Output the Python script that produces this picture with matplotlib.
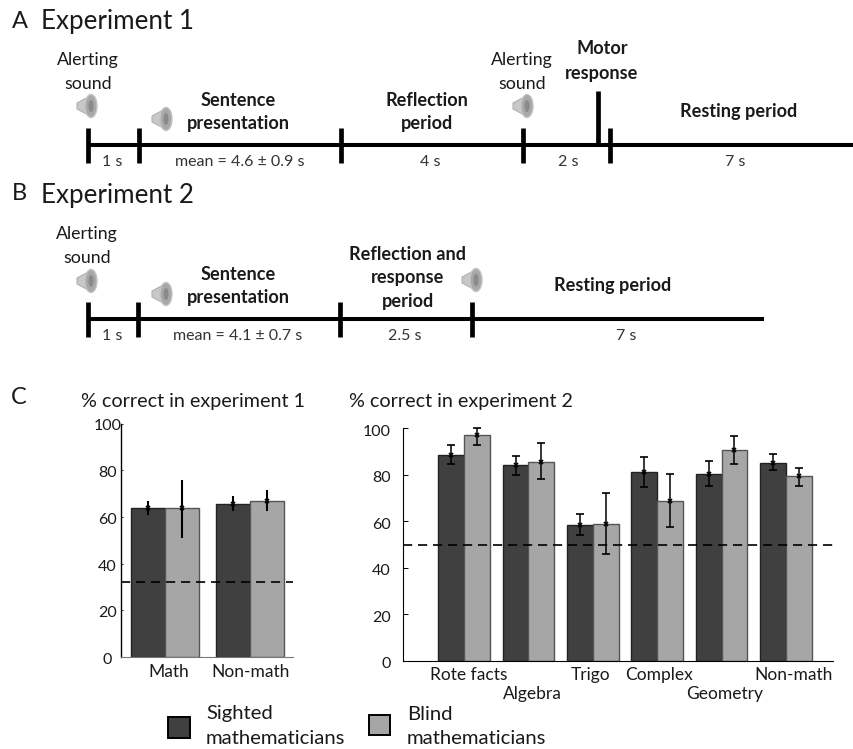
import matplotlib
matplotlib.use('Agg')
import matplotlib.pyplot as plt
from matplotlib.patches import Polygon, Ellipse, Rectangle

plt.rcParams['font.family'] = ['Lato', 'DejaVu Sans']

W, H = 854, 749
DARK = '#404040'
LIGHT = '#a6a6a6'
TXT = '#1a1a1a'

# Experiment 1 accuracy
exp1_groups = ['Math', 'Non-math']
exp1_sighted = [64, 65.7]
exp1_blind = [63.6, 66.9]
exp1_sighted_hi = [66.6, 69.1]
exp1_sighted_lo = [61, 62.4]
exp1_blind_hi = [76, 71.7]
exp1_blind_lo = [50.9, 62.7]
exp1_chance = 32

# Experiment 2 accuracy
exp2_groups = ['Rote facts', 'Algebra', 'Trigo', 'Complex', 'Geometry', 'Non-math']
exp2_sighted = [88.5, 84, 58.2, 81, 80.3, 85]
exp2_blind = [97, 85.2, 58.7, 68.5, 90.5, 79.3]
exp2_sighted_hi = [92.6, 88, 63.3, 87.5, 85.7, 88.7]
exp2_sighted_lo = [84.5, 79.8, 54, 74.6, 75, 81.8]
exp2_blind_hi = [100, 93.4, 72, 80.2, 96.7, 82.7]
exp2_blind_lo = [92.8, 78, 45.8, 57.3, 84.4, 75.2]
exp2_chance = 50

# Timelines (pixel positions on the page)
a_ticks = [88, 139, 341, 523, 610]
a_y, a_end = 145, 854
b_ticks = [88, 138, 340, 472]
b_y, b_end = 319, 764
speakers = [(87, 106), (162, 119), (523, 106), (87, 281), (162, 294), (472, 280)]

normal_text = [
    ('Alerting', 88, 60), ('sound', 88, 84), ('Alerting', 522, 60), ('sound', 522, 84),
    ('Alerting', 87, 234), ('sound', 87, 258),
]
bold_text = [
    ('Sentence', 238, 100), ('presentation', 238, 124), ('Reflection', 427, 100), ('period', 427, 124),
    ('Motor', 602, 49), ('response', 602, 73), ('Resting period', 739, 111),
    ('Sentence', 238, 274), ('presentation', 238, 298), ('Reflection and', 408, 254),
    ('response', 408, 278), ('period', 408, 301), ('Resting period', 613, 285),
]
small_text = [
    ('1 s', 112, 162), ('mean = 4.6 ± 0.9 s', 240, 162), ('4 s', 430, 162), ('2 s', 568, 162), ('7 s', 735, 162),
    ('1 s', 112, 336), ('mean = 4.1 ± 0.7 s', 238, 336), ('2.5 s', 405, 336), ('7 s', 626, 336),
]


def make_axes(left, right, top, bottom):
    return fig.add_axes([left / W, 1 - bottom / H, (right - left) / W, (bottom - top) / H])


def draw_bars(ax, groups, sighted, blind, s_hi, s_lo, b_hi, b_lo, chance, capsize, lw):
    for i in range(len(groups)):
        ax.bar(i - 0.2, sighted[i], 0.4, color=DARK, edgecolor='#222222', linewidth=1)
        ax.bar(i + 0.2, blind[i], 0.4, color=LIGHT, edgecolor='#555555', linewidth=1)
        ax.errorbar(i - 0.2, sighted[i], yerr=[[sighted[i] - s_lo[i]], [s_hi[i] - sighted[i]]], color='black',
                    elinewidth=lw, capsize=capsize, capthick=lw, marker='x', ms=3, mew=1.2, zorder=5, clip_on=False)
        ax.errorbar(i + 0.2, blind[i], yerr=[[blind[i] - b_lo[i]], [b_hi[i] - blind[i]]], color='black',
                    elinewidth=lw, capsize=capsize, capthick=lw, marker='x', ms=3, mew=1.2, zorder=5, clip_on=False)
    ax.axhline(chance, color='black', lw=1.2, dashes=(5.5, 3.5), zorder=4)
    ax.set_ylim(0, 100)
    ax.set_xticks([])
    ax.set_yticks([0, 20, 40, 60, 80, 100])
    ax.set_yticklabels([])
    ax.patch.set_alpha(0)
    ax.spines['top'].set_visible(False)
    ax.spines['right'].set_visible(False)


fig = plt.figure(figsize=(W / 100, H / 100), dpi=100)

page = fig.add_axes([0, 0, 1, 1])
page.set_xlim(0, W)
page.set_ylim(H, 0)
page.axis('off')


def speaker(cx, cy):
    page.add_patch(Polygon([(cx - 10, cy - 3), (cx + 5, cy - 11), (cx + 5, cy + 11), (cx - 10, cy + 3)],
                           closed=True, facecolor='#c8c8c8', edgecolor='#b0b0b0', lw=0.8))
    page.add_patch(Ellipse((cx + 4, cy), 12, 23, facecolor='#a8a8a8', edgecolor='#c4c4c4', lw=1))
    page.add_patch(Ellipse((cx + 4, cy), 5, 12, facecolor='#8a8a8a', edgecolor='none'))


def timeline(ticks, y, end):
    page.plot([ticks[0], end], [y, y], color='black', lw=2.9, solid_capstyle='butt')
    for x in ticks:
        page.plot([x, x], [y - 17, y + 18], color='black', lw=3.4, solid_capstyle='butt')


timeline(a_ticks, a_y, a_end)
timeline(b_ticks, b_y, b_end)
page.plot([598, 598], [91, 143], color='black', lw=3.4, solid_capstyle='butt')
for cx, cy in speakers:
    speaker(cx, cy)

for s, x, y in normal_text:
    page.text(x, y, s, ha='center', va='center', fontsize=12.8, color=TXT)
for s, x, y in bold_text:
    page.text(x, y, s, ha='center', va='center', fontsize=13.1, fontweight='bold', color=TXT)
for s, x, y in small_text:
    page.text(x, y, s, ha='center', va='center', fontsize=11.5, color='#333333')

for s, x, y in [('A', 12, 21), ('B', 12, 194), ('C', 11, 397)]:
    page.text(x, y, s, ha='left', va='center', fontsize=17, color=TXT)
page.text(41, 21, 'Experiment 1', ha='left', va='center', fontsize=18.7, color=TXT)
page.text(41, 195, 'Experiment 2', ha='left', va='center', fontsize=18.7, color=TXT)
page.text(81, 401, '% correct in experiment 1', ha='left', va='center', fontsize=14.2, color=TXT)
page.text(349, 401, '% correct in experiment 2', ha='left', va='center', fontsize=14.2, color=TXT)

# legend
page.add_patch(Rectangle((168, 717), 22, 21, facecolor=DARK, edgecolor='black', lw=1.4))
page.add_patch(Rectangle((369, 715), 21, 20, facecolor=LIGHT, edgecolor='black', lw=1.4))
page.text(206, 713, 'Sighted', ha='left', va='center', fontsize=14.6, color=TXT)
page.text(206, 738, 'mathematicians', ha='left', va='center', fontsize=14.6, color=TXT)
page.text(407, 715, 'Blind', ha='left', va='center', fontsize=14.6, color=TXT)
page.text(407, 738.5, 'mathematicians', ha='left', va='center', fontsize=14.6, color=TXT)

# panel C, experiment 1
ax1 = make_axes(121, 293, 423.5, 657)
draw_bars(ax1, exp1_groups, exp1_sighted, exp1_blind, exp1_sighted_hi, exp1_sighted_lo,
          exp1_blind_hi, exp1_blind_lo, exp1_chance, 0, 1.5)
ax1.set_xlim(-0.518, 1.506)
ax1.spines['bottom'].set_color('#777777')
ax1.spines['left'].set_linewidth(1)
ax1.tick_params(axis='y', direction='in', length=1.5, width=0.6)
for v in ax1.get_yticks():
    ax1.annotate(str(int(v)), xy=(0, v), xycoords=('axes fraction', 'data'), xytext=(-13.5, -3), textcoords='offset pixels',
                 ha='center', va='center', fontsize=11.5, color=TXT)
for i, s in enumerate(exp1_groups):
    ax1.annotate(s, xy=(i, 0), xycoords='data', xytext=(4 if i == 0 else 1, -15), textcoords='offset pixels',
                 ha='center', va='center', fontsize=12.5, color=TXT)

# panel C, experiment 2
ax2 = make_axes(403, 833, 428, 661)
draw_bars(ax2, exp2_groups, exp2_sighted, exp2_blind, exp2_sighted_hi, exp2_sighted_lo,
          exp2_blind_hi, exp2_blind_lo, exp2_chance, 3, 1.1)
ax2.set_xlim(-0.947, 5.73)
ax2.tick_params(axis='y', direction='in', length=3.5, width=0.7)
for v in ax2.get_yticks():
    ax2.annotate(str(int(v)), xy=(0, v), xycoords=('axes fraction', 'data'), xytext=(-12, -3.5), textcoords='offset pixels',
                 ha='right', va='center', fontsize=11.5, color=TXT)
label_dx = [5, 4, -2, 2, 3, 8]
label_dy = [-14, -33, -14, -14, -33, -14]
for i, s in enumerate(exp2_groups):
    ax2.annotate(s, xy=(i, 0), xycoords='data', xytext=(label_dx[i], label_dy[i]), textcoords='offset pixels',
                 ha='center', va='center', fontsize=12.5, color=TXT)

fig.savefig('out.png', dpi=100)
